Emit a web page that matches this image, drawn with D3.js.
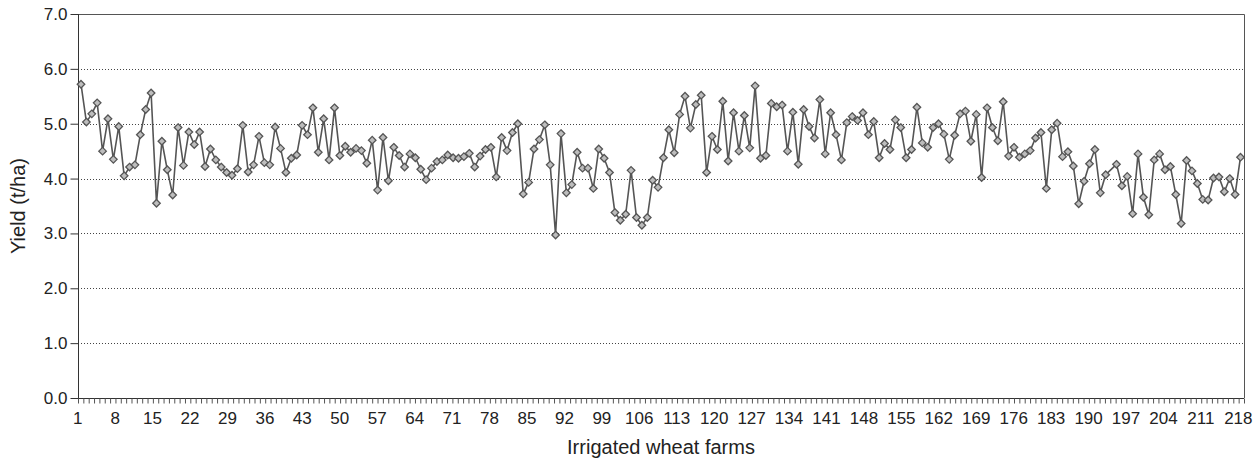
<!DOCTYPE html>
<html>
<head>
<meta charset="utf-8">
<script src="https://cdn.jsdelivr.net/npm/d3@7"></script>
<style>
  html, body { margin: 0; padding: 0; background: #fff; }
  svg { display: block; font-family: "Liberation Sans", Arial, sans-serif; }
</style>
</head>
<body>
<svg id="chart" width="1260" height="460"></svg>
<script>
// ---- data ----
const farms = d3.range(1, 217);
const yields = [
  5.72, 5.03, 5.18, 5.38, 4.50, 5.09, 4.35, 4.95, 4.05, 4.21,
  4.25, 4.80, 5.26, 5.56, 3.55, 4.68, 4.16, 3.70, 4.93, 4.24,
  4.85, 4.62, 4.85, 4.22, 4.54, 4.34, 4.21, 4.11, 4.06, 4.18,
  4.97, 4.12, 4.25, 4.77, 4.29, 4.25, 4.94, 4.55, 4.11, 4.37,
  4.43, 4.97, 4.80, 5.29, 4.48, 5.09, 4.34, 5.29, 4.42, 4.59,
  4.48, 4.55, 4.51, 4.28, 4.70, 3.79, 4.75, 3.96, 4.57, 4.42,
  4.21, 4.45, 4.38, 4.17, 3.98, 4.19, 4.31, 4.34, 4.43, 4.38,
  4.37, 4.40, 4.46, 4.21, 4.41, 4.53, 4.57, 4.03, 4.75, 4.51,
  4.84, 5.00, 3.72, 3.93, 4.54, 4.71, 4.98, 4.25, 2.97, 4.82,
  3.74, 3.89, 4.48, 4.19, 4.19, 3.82, 4.54, 4.37, 4.11, 3.38,
  3.24, 3.35, 4.15, 3.29, 3.15, 3.29, 3.97, 3.84, 4.38, 4.89,
  4.47, 5.17, 5.50, 4.92, 5.35, 5.52, 4.11, 4.77, 4.53, 5.41,
  4.32, 5.20, 4.50, 5.15, 4.56, 5.69, 4.37, 4.42, 5.37, 5.31,
  5.34, 4.50, 5.21, 4.26, 5.26, 4.95, 4.74, 5.44, 4.45, 5.20,
  4.80, 4.34, 5.02, 5.13, 5.06, 5.20, 4.80, 5.04, 4.38, 4.64,
  4.53, 5.07, 4.93, 4.38, 4.53, 5.30, 4.65, 4.57, 4.93, 5.00,
  4.81, 4.35, 4.79, 5.18, 5.23, 4.68, 5.17, 4.02, 5.29, 4.93,
  4.69, 5.40, 4.41, 4.57, 4.39, 4.45, 4.51, 4.74, 4.84, 3.82,
  4.89, 5.01, 4.40, 4.49, 4.23, 3.54, 3.95, 4.27, 4.53, 3.74,
  4.07, null, 4.26, 3.87, 4.04, 3.36, 4.45, 3.66, 3.34, 4.34,
  4.45, 4.16, 4.22, 3.71, 3.18, 4.33, 4.14, 3.91, 3.62, 3.61,
  4.01, 4.03, 3.76, 4.00, 3.71, 4.39
];
const axisCategories = d3.range(1, 219);
const xTickLabels = d3.range(1, 219, 7);
const yTickValues = [0, 1, 2, 3, 4, 5, 6, 7];
const xTitle = "Irrigated wheat farms";
const yTitle = "Yield (t/ha)";

// ---- layout ----
const L = 78, R = 1244, T = 14, B = 398;
const svg = d3.select("#chart");

const y = d3.scaleLinear().domain([0, 7]).range([B, T]);
const xBand = d3.scaleBand().domain(axisCategories).range([L, R]);
const xPt = d3.scalePoint().domain(farms).range([81, 1240.5]);
const xTick = d3.scaleLinear().domain([0, axisCategories.length]).range([L, R]);

// gridlines
svg.append("g")
  .selectAll("line")
  .data(yTickValues.filter(v => v > 0 && v < 7))
  .join("line")
  .attr("x1", L).attr("x2", R)
  .attr("y1", d => Math.round(y(d)) + 0.5).attr("y2", d => Math.round(y(d)) + 0.5)
  .attr("stroke", "#444")
  .attr("stroke-width", 1)
  .attr("stroke-dasharray", "1,2");

// plot border (top / right)
svg.append("path")
  .attr("d", `M${L},${T + 0.5}H${R + 0.5}V${B}`)
  .attr("fill", "none")
  .attr("stroke", "#555")
  .attr("stroke-width", 1);

// y axis
const yAxis = svg.append("g")
  .attr("transform", `translate(${L + 0.5},0)`)
  .call(d3.axisLeft(y).tickValues(yTickValues).tickFormat(d3.format(".1f")).tickSize(8).tickPadding(3));
yAxis.select(".domain").attr("stroke", "#333").attr("d", `M0,${T}V${B}`);
yAxis.selectAll(".tick line").attr("stroke", "#333");
yAxis.selectAll("text").attr("font-size", 17).attr("fill", "#222");

// x axis minor ticks (category boundaries)
const xAxisTicks = svg.append("g")
  .attr("transform", `translate(0,${B + 0.5})`)
  .call(d3.axisBottom(xTick).tickValues(d3.range(0, axisCategories.length + 1)).tickSize(5).tickFormat(""));
xAxisTicks.select(".domain").attr("stroke", "#333").attr("d", `M${L},0H${R}`);
xAxisTicks.selectAll(".tick line").attr("stroke", "#555");

// x axis labels
const xAxisLabels = svg.append("g")
  .attr("transform", `translate(-3,${B})`)
  .call(d3.axisBottom(xBand).tickValues(xTickLabels).tickSize(0).tickPadding(14));
xAxisLabels.select(".domain").remove();
xAxisLabels.selectAll("text").attr("font-size", 17).attr("fill", "#222");

// line
const pts = farms.map((f, i) => ({ f, v: yields[i] })).filter(d => d.v != null);
svg.append("path")
  .datum(pts)
  .attr("fill", "none")
  .attr("stroke", "#555")
  .attr("stroke-width", 1.6)
  .attr("d", d3.line().x(d => xPt(d.f)).y(d => y(d.v)));

// markers
const diamond = d3.symbol().type(d3.symbolDiamond2).size(36);
svg.append("g")
  .selectAll("path")
  .data(pts)
  .join("path")
  .attr("transform", d => `translate(${xPt(d.f)},${y(d.v)})`)
  .attr("d", diamond)
  .attr("fill", "#bdbdbd")
  .attr("stroke", "#555")
  .attr("stroke-width", 1.3);

// titles
svg.append("text")
  .attr("x", 661).attr("y", 454)
  .attr("text-anchor", "middle")
  .attr("font-size", 20)
  .attr("fill", "#222")
  .text(xTitle);

svg.append("text")
  .attr("transform", `translate(25,${(T + B) / 2}) rotate(-90)`)
  .attr("text-anchor", "middle")
  .attr("font-size", 20)
  .attr("fill", "#222")
  .text(yTitle);
</script>
</body>
</html>
